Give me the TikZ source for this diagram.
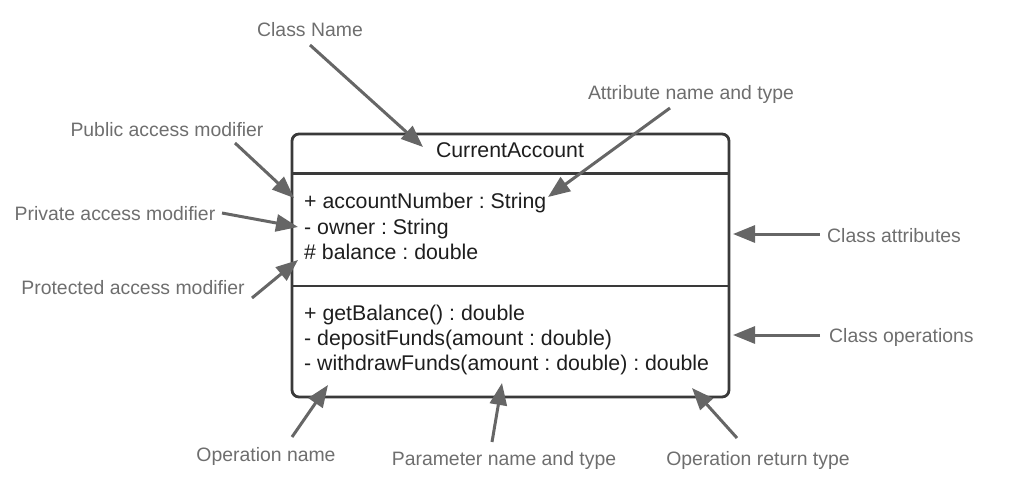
\documentclass[tikz,border=0pt]{standalone}
\usepackage{fontspec}
\setmainfont{Liberation Sans}
\usetikzlibrary{arrows.meta}
\frenchspacing
\definecolor{boxline}{HTML}{3A3A3A}
\definecolor{boxtext}{HTML}{1E1E1E}
\definecolor{labeltext}{HTML}{6E6E6E}
\definecolor{arrowcol}{HTML}{666666}
\tikzset{
  boxtxt/.style={anchor=base west, inner sep=0pt, text=boxtext, font=\fontsize{21.3}{25}\selectfont\frenchspacing},
  lbl/.style={anchor=base, inner sep=0pt, text=labeltext, font=\fontsize{19.4}{23}\selectfont},
  callout/.style={draw=arrowcol, line width=3pt, -{Triangle[length=22pt,width=17pt]}, shorten >=0pt},
  frame/.style={draw=boxline, line width=2.8pt}
}
\begin{document}
\begin{tikzpicture}[x=1pt,y=-1pt]
\useasboundingbox (0,0) rectangle (1024,499);
% class box
\draw[frame, rounded corners=7pt] (292,134) rectangle (729,397);
\draw[frame] (292,173.5) -- (729,173.5);
\draw[frame] (292,286) -- (729,286);
\node[anchor=base, inner sep=0pt, text=boxtext, font=\fontsize{21.3}{25}\selectfont] (cname) at (510,157) {CurrentAccount};
\node[boxtxt] (a1) at (304,208) {+ accountNumber : String};
\node[boxtxt] (a2) at (304,234) {- owner : String};
\node[boxtxt] (a3) at (304,259) {\# balance : double};
\node[boxtxt] (o1) at (304,320) {+ getBalance() : double};
\node[boxtxt] (o2) at (304,345) {- depositFunds(amount : double)};
\node[boxtxt] (o3) at (304,370) {- withdrawFunds(amount : double) : double};
% labels
\node[lbl] (lclass) at (310,36) {Class Name};
\node[lbl] (lattr) at (691,99) {Attribute name and type};
\node[lbl] (lpub) at (167,136) {Public access modifier};
\node[lbl] (lpriv) at (115,220) {Private access modifier};
\node[lbl] (lprot) at (133,294) {Protected access modifier};
\node[lbl, anchor=base west] (lattrs) at (827,242) {Class attributes};
\node[lbl, anchor=base west] (lops) at (829,342) {Class operations};
\node[lbl] (lopname) at (266,461) {Operation name};
\node[lbl] (lparam) at (504,465) {Parameter name and type};
\node[lbl] (lret) at (758,465) {Operation return type};
% arrow end points
\coordinate (s1) at (310,45);   \coordinate (t1) at (423,147);
\coordinate (s2) at (670,108);  \coordinate (t2) at (548,197);
\coordinate (s3) at (235,143);  \coordinate (t3) at (294,198);
\coordinate (s4) at (222,213);  \coordinate (t4) at (298,227);
\coordinate (s5) at (252,298);  \coordinate (t5) at (298,260);
\coordinate (s6) at (820,234);  \coordinate (t6) at (733,234);
\coordinate (s7) at (820,335);  \coordinate (t7) at (733,335);
\coordinate (s8) at (292,437);  \coordinate (t8) at (328,385);
\coordinate (s9) at (492,442);  \coordinate (t9) at (502,383);
\coordinate (s10) at (737,438); \coordinate (t10) at (692,388);
\draw[callout] (s1) -- (t1);
\draw[callout] (s2) -- (t2);
\draw[callout] (s3) -- (t3);
\draw[callout] (s4) -- (t4);
\draw[callout] (s5) -- (t5);
\draw[callout] (s6) -- (t6);
\draw[callout] (s7) -- (t7);
\draw[callout] (s8) -- (t8);
\draw[callout] (s9) -- (t9);
\draw[callout] (s10) -- (t10);
\end{tikzpicture}
\end{document}
